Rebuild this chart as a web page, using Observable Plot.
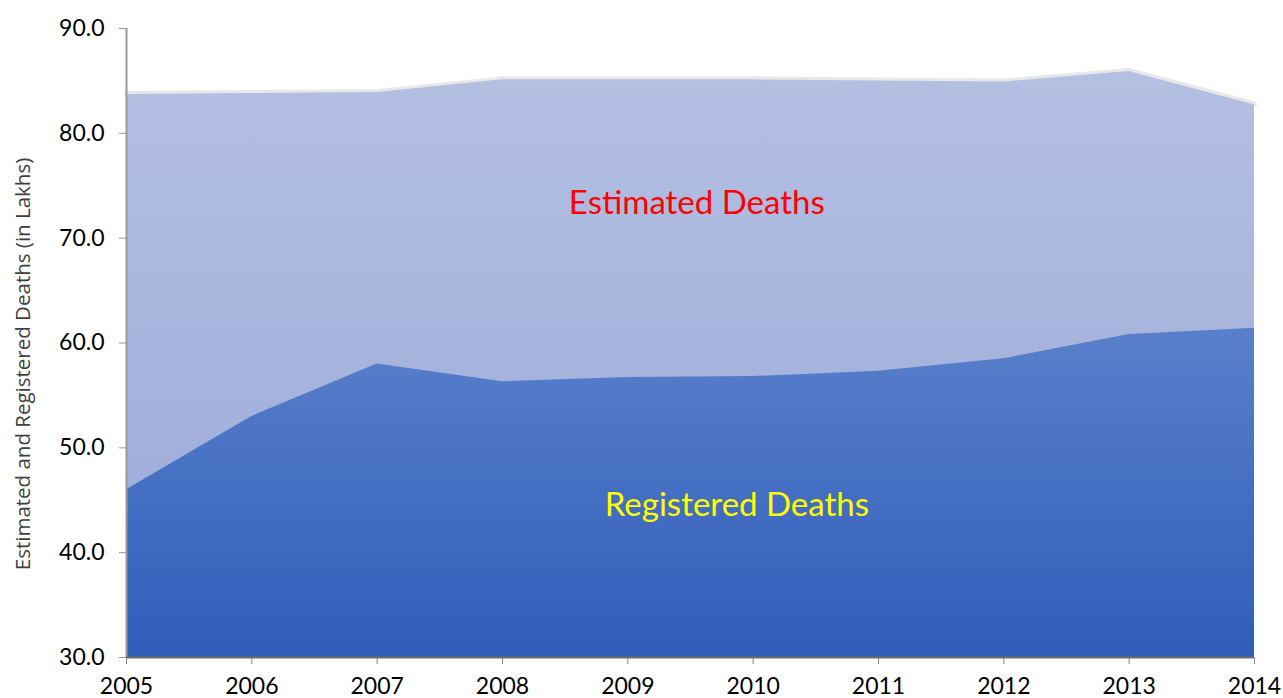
<!DOCTYPE html>
<html>
<head>
<meta charset="utf-8">
<script src="https://cdn.jsdelivr.net/npm/d3@7"></script>
<script src="https://cdn.jsdelivr.net/npm/@observablehq/plot@0.6"></script>
<style>
  html, body { margin: 0; padding: 0; background: #fff; }
  #chart svg { display: block; }
</style>
</head>
<body>
<div id="chart"></div>
<script>
const years = [2005, 2006, 2007, 2008, 2009, 2010, 2011, 2012, 2013, 2014];
const estimatedDeaths = [83.7, 83.8, 83.9, 85.1, 85.1, 85.1, 85.0, 84.9, 85.9, 82.7];
const registeredDeaths = [46.0, 53.0, 58.0, 56.3, 56.7, 56.8, 57.3, 58.5, 60.8, 61.4];
const yTicks = [30, 40, 50, 60, 70, 80, 90];
const yLabel = "Estimated and Registered Deaths (in Lakhs)";
const seriesLabels = [
  {text: "Estimated Deaths", x: 2009.55, y: 73.3, color: "#ff0000"},
  {text: "Registered Deaths", x: 2009.87, y: 44.5, color: "#ffff00"}
];

const rows = years.map((yr, i) => ({year: yr, est: estimatedDeaths[i], reg: registeredDeaths[i]}));
const base = yTicks[0];

const plot = Plot.plot({
  width: 1283,
  height: 698,
  marginLeft: 126,
  marginRight: 29,
  marginTop: 28,
  marginBottom: 41,
  style: {fontFamily: "Lato, 'Open Sans', sans-serif", background: "#fff", overflow: "visible"},
  x: {domain: [years[0], years[years.length - 1]], ticks: years, tickFormat: "d"},
  y: {domain: [yTicks[0], yTicks[yTicks.length - 1]], ticks: yTicks, tickFormat: d3.format(".1f")},
  marks: [
    Plot.line(rows, {x: "year", y: "est", stroke: "#e8e8e8", strokeWidth: 5, dy: -1}),
    Plot.areaY(rows, {x: "year", y1: base, y2: "est", fill: "url(#gradEst)"}),
    Plot.areaY(rows, {x: "year", y1: base, y2: "reg", fill: "url(#gradReg)"}),
    Plot.axisY({ticks: yTicks, tickFormat: d3.format(".1f"), tickSize: 7, tickPadding: 15, stroke: "#999", fontSize: 23, label: null, color: "#000"}),
    Plot.axisX({ticks: years, tickFormat: "d", tickSize: 7, tickPadding: 13, stroke: "#888", fontSize: 23, label: null, color: "#000"}),
    Plot.ruleX([years[0]], {stroke: "#9a9a9a", strokeWidth: 2}),
    Plot.ruleY([base], {stroke: "#6f6f6f", strokeWidth: 2}),
    Plot.text(seriesLabels, {x: "x", y: "y", text: "text", fill: "color", fontSize: 33, textAnchor: "middle"})
  ]
});

// gradient definitions
const svg = d3.select(plot);
const defs = svg.insert("defs", ":first-child");
const g1 = defs.append("linearGradient").attr("id", "gradEst").attr("x1", 0).attr("y1", 0).attr("x2", 0).attr("y2", 1);
g1.append("stop").attr("offset", "0%").attr("stop-color", "#b4c0e2");
g1.append("stop").attr("offset", "100%").attr("stop-color", "#98a8d8");
const g2 = defs.append("linearGradient").attr("id", "gradReg").attr("x1", 0).attr("y1", 0).attr("x2", 0).attr("y2", 1);
g2.append("stop").attr("offset", "0%").attr("stop-color", "#5a80cb");
g2.append("stop").attr("offset", "100%").attr("stop-color", "#2f5db9");

// y-axis title
svg.append("text")
  .attr("transform", "translate(30,364) rotate(-90)")
  .attr("text-anchor", "middle")
  .style("font-family", "'Open Sans', sans-serif")
  .style("font-size", "20.5px")
  .style("fill", "#404040")
  .text(yLabel);

document.getElementById("chart").appendChild(plot);
</script>
</body>
</html>
